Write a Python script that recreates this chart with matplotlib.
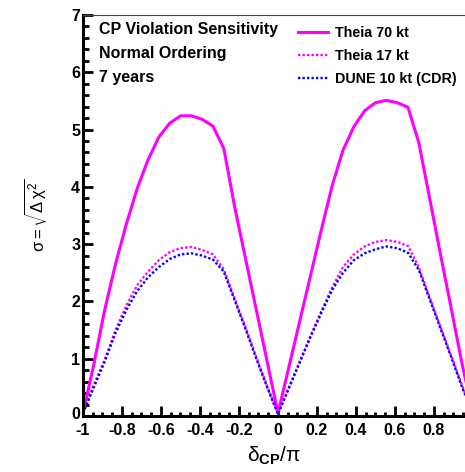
"""Render the CP violation sensitivity curves in a ROOT-like style."""

import matplotlib

matplotlib.use("Agg")

import matplotlib.pyplot as plt
import matplotlib.transforms as mtransforms
import numpy as np
from matplotlib.ticker import FixedLocator, MultipleLocator

# delta_CP grid in degrees, plotted as delta_CP / pi
DELTA_CP_DEG = [
    -180, -170, -160, -150, -140, -130, -120, -110, -100, -90,
    -80, -70, -60, -50, -40, -30, -20, -10, 0,
    10, 20, 30, 40, 50, 60, 70, 80, 90, 100,
    110, 120, 130, 140, 150, 160, 170, 180,
]

THEIA_70 = [
    0.05, 0.90, 1.85, 2.65, 3.35, 3.97, 4.47, 4.87, 5.11, 5.24,
    5.24, 5.18, 5.06, 4.67, 3.65, 2.75, 1.85, 0.95, 0.05,
    0.85, 1.65, 2.45, 3.25, 4.02, 4.64, 5.05, 5.33, 5.47, 5.51,
    5.47, 5.39, 4.77, 3.80, 2.82, 1.87, 0.90, 0.05,
]

THEIA_17 = [
    0.05, 0.55, 0.98, 1.50, 1.93, 2.28, 2.52, 2.72, 2.86, 2.93,
    2.95, 2.90, 2.82, 2.56, 2.05, 1.55, 1.03, 0.52, 0.05,
    0.50, 0.95, 1.40, 1.83, 2.25, 2.60, 2.82, 2.96, 3.04, 3.07,
    3.04, 2.97, 2.60, 2.07, 1.56, 1.05, 0.53, 0.05,
]

DUNE_10 = [
    0.05, 0.50, 0.95, 1.45, 1.85, 2.18, 2.42, 2.60, 2.74, 2.82,
    2.84, 2.80, 2.73, 2.52, 2.02, 1.52, 1.00, 0.50, 0.03,
    0.48, 0.93, 1.38, 1.80, 2.20, 2.50, 2.72, 2.84, 2.91, 2.96,
    2.93, 2.85, 2.55, 2.04, 1.53, 1.02, 0.50, 0.03,
]

X_TICKS = [-1.0, -0.8, -0.6, -0.4, -0.2, 0.0, 0.2, 0.4, 0.6, 0.8]
X_TICK_LABELS = ["-1", "-0.8", "-0.6", "-0.4", "-0.2", "0", "0.2", "0.4", "0.6", "0.8"]
Y_TICKS = [0, 1, 2, 3, 4, 5, 6, 7]

INFO_LINES = ["CP Violation Sensitivity", "Normal Ordering", "7 years"]

DOTTED = (0, (1.0, 0.9))

plt.rcParams["font.family"] = ["Liberation Sans", "DejaVu Sans"]
plt.rcParams["axes.unicode_minus"] = False
plt.rcParams["mathtext.fontset"] = "custom"
plt.rcParams["mathtext.rm"] = "Liberation Sans"
plt.rcParams["mathtext.it"] = "Liberation Sans"
plt.rcParams["mathtext.bf"] = "Liberation Sans:bold"

x_values = np.array(DELTA_CP_DEG) / 180.0

figure = plt.figure(figsize=(4.65, 4.72), dpi=100)
axis = figure.add_axes([83 / 465, 1 - 416 / 472, 1 - 83 / 465, 401 / 472])

axis.plot(x_values, THEIA_70, color="#ff00ff", linewidth=2.2, label="Theia 70 kt")
axis.plot(x_values, THEIA_17, color="#ff00ff", linewidth=1.7, linestyle=DOTTED,
          label="Theia 17 kt")
axis.plot(x_values, DUNE_10, color="#0000ff", linewidth=1.7, linestyle=DOTTED,
          label="DUNE 10 kt (CDR)")

axis.set_xlim(-1.0, 0.959)
axis.set_ylim(0.0, 7.0)

axis.xaxis.set_major_locator(FixedLocator(X_TICKS))
axis.set_xticklabels(X_TICK_LABELS)
axis.xaxis.set_minor_locator(MultipleLocator(0.05))
axis.yaxis.set_major_locator(FixedLocator(Y_TICKS))
axis.yaxis.set_minor_locator(MultipleLocator(0.2))
axis.tick_params(which="both", direction="in", width=2.0, top=False, right=False)
axis.tick_params(which="major", length=7.5, labelsize=11.5, pad=5)
axis.tick_params(axis="x", which="minor", length=3.2)
axis.tick_params(axis="y", which="minor", length=4.0)
axis.tick_params(axis="y", which="major", pad=2)
for tick_label in axis.get_xticklabels() + axis.get_yticklabels():
    tick_label.set_fontweight("bold")

# ROOT lifts the zero label a little so it clears the "-1" below it
zero_label = axis.get_yticklabels()[0]
zero_label.set_transform(
    zero_label.get_transform()
    + mtransforms.ScaledTranslation(0, 3 / 100, figure.dpi_scale_trans)
)

for side in ("left", "bottom"):
    axis.spines[side].set_linewidth(2.2)
axis.spines["top"].set_linewidth(0.8)
axis.spines["top"].set_color("#444444")
axis.spines["right"].set_visible(False)

axis.set_xlabel(r"$\delta_{\mathbf{CP}}/\pi$", fontsize=15, labelpad=5)
axis.set_ylabel(r"$\sigma = \sqrt{\Delta\,\chi^{2}}$", fontsize=12, labelpad=16)

for row, line in enumerate(INFO_LINES):
    axis.text(0.042, 0.963 - row * 0.059, line, transform=axis.transAxes,
              fontsize=11.5, fontweight="bold", ha="left", va="center")

legend = axis.legend(
    loc="upper left",
    bbox_to_anchor=(0.563, 0.972),
    frameon=False,
    borderpad=0.0,
    borderaxespad=0.0,
    handlelength=2.1,
    handletextpad=0.5,
    labelspacing=0.62,
    prop={"weight": "bold", "size": 10.3},
)

figure.savefig("out.png", dpi=100)
plt.close(figure)
